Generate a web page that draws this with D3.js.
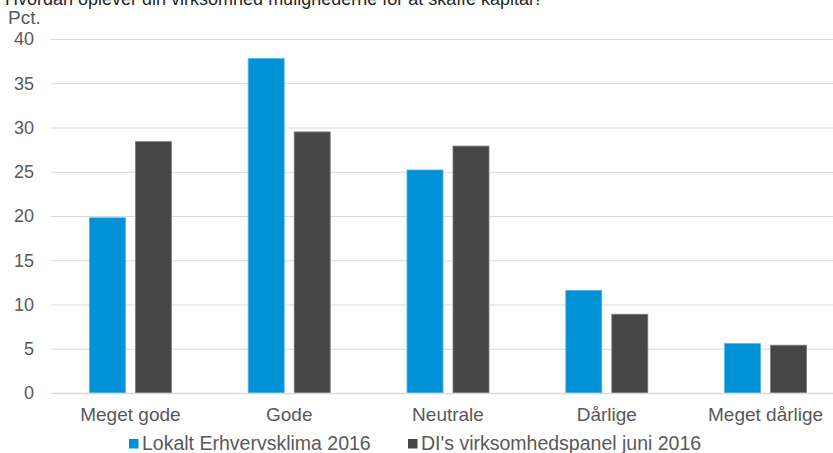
<!DOCTYPE html>
<html>
<head>
<meta charset="utf-8">
<script src="https://cdn.jsdelivr.net/npm/d3@7"></script>
<style>
  html, body { margin: 0; padding: 0; background: #fff; }
  svg { display: block; font-family: "Liberation Sans", Arial, sans-serif; }
</style>
</head>
<body>
<svg id="chart" width="833" height="453"></svg>
<script>
// Survey answers per category, percent of respondents
const categories = ["Meget gode", "Gode", "Neutrale", "Dårlige", "Meget dårlige"];
const seriesNames = ["Lokalt Erhvervsklima 2016", "DI's virksomhedspanel juni 2016"];
const lokalt = [19.8, 37.8, 25.2, 11.6, 5.6];
const diPanel = [28.4, 29.5, 27.9, 8.9, 5.4];
const yTicks = [0, 5, 10, 15, 20, 25, 30, 35, 40];
const colors = ["#0091d6", "#464646"];

const svg = d3.select("#chart");
const plot = { left: 51, right: 845, top: 39, bottom: 393 };
const textColor = "#595959";
const fontFam = "Liberation Sans, Arial, sans-serif";

const x0 = d3.scaleBand().domain(categories).range([plot.left, plot.right]).paddingInner(0).paddingOuter(0);
const y = d3.scaleLinear().domain([0, 40]).range([plot.bottom, plot.top]);

// Title, running off the top edge
svg.append("text")
  .attr("x", 5).attr("y", 5)
  .attr("font-size", 18).attr("fill", "#262626")
  .text("Hvordan oplever din virksomhed mulighederne for at skaffe kapital?");

svg.append("text")
  .attr("x", 8).attr("y", 24)
  .attr("font-size", 19).attr("fill", textColor)
  .text("Pct.");

// Gridlines and y labels
const yAxis = d3.axisLeft(y).tickValues(yTicks).tickSize(-(plot.right - plot.left)).tickPadding(17);
const gy = svg.append("g").attr("transform", `translate(${plot.left},0)`).call(yAxis);
gy.select(".domain").remove();
gy.selectAll(".tick line").attr("stroke", "#d9d9d9").attr("stroke-width", 1);
gy.selectAll(".tick text").attr("font-size", 18).attr("fill", textColor)
  .attr("font-family", fontFam);

// Bars
const barW = 36, gap = 10;
const seriesData = [lokalt, diPanel];
seriesData.forEach((vals, si) => {
  svg.append("g").selectAll("rect")
    .data(vals)
    .join("rect")
    .attr("x", (d, i) => x0(categories[i]) + x0.bandwidth() / 2 - (barW + gap / 2) + si * (barW + gap))
    .attr("y", d => y(d))
    .attr("width", barW)
    .attr("height", d => y(0) - y(d))
    .attr("fill", colors[si])
    .attr("stroke", si === 0 ? "#55b5e6" : "#7a7a7a")
    .attr("stroke-width", 0.8);
});

// Baseline
svg.append("line")
  .attr("x1", plot.left).attr("x2", plot.right)
  .attr("y1", y(0) + 0.5).attr("y2", y(0) + 0.5)
  .attr("stroke", "#d9d9d9").attr("stroke-width", 1.5);

// Category labels
const xAxis = d3.axisBottom(x0).tickSize(0).tickPadding(15);
const gx = svg.append("g").attr("transform", `translate(0,${plot.bottom})`).call(xAxis);
gx.select(".domain").remove();
gx.selectAll(".tick text").attr("font-size", 19).attr("fill", textColor)
  .attr("font-family", fontFam);

// Legend
const legendX = [129, 408];
const legend = svg.append("g");
seriesNames.forEach((name, i) => {
  legend.append("rect")
    .attr("x", legendX[i]).attr("y", 439)
    .attr("width", 9.5).attr("height", 9.5)
    .attr("fill", colors[i]);
  legend.append("text")
    .attr("x", legendX[i] + 13).attr("y", 450)
    .attr("font-size", 19.5).attr("fill", textColor)
    .text(name);
});
</script>
</body>
</html>
